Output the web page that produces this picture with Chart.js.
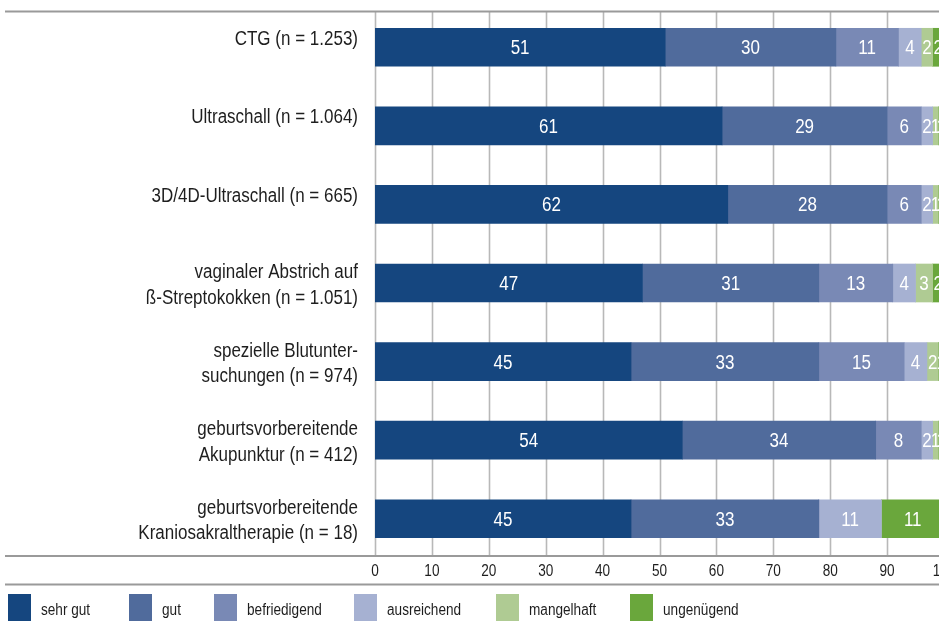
<!DOCTYPE html>
<html>
<head>
<meta charset="utf-8">
<script src="https://cdn.jsdelivr.net/npm/chart.js@4/dist/chart.umd.min.js"></script>
<style>
  html, body { margin: 0; padding: 0; background: #fff; overflow: hidden; width: 939px; height: 621px; }
  #wrap { position: relative; width: 960px; height: 621px; }
</style>
</head>
<body>
<div id="wrap"><canvas id="c" width="960" height="621"></canvas></div>
<script>
// Categories (examinations) with sample sizes
const categories = [
  'CTG (n = 1.253)',
  'Ultraschall (n = 1.064)',
  '3D/4D-Ultraschall (n = 665)',
  ['vaginaler Abstrich auf', 'ß-Streptokokken (n = 1.051)'],
  ['spezielle Blutunter-', 'suchungen (n = 974)'],
  ['geburtsvorbereitende', 'Akupunktur (n = 412)'],
  ['geburtsvorbereitende', 'Kraniosakraltherapie (n = 18)']
];

// Share of ratings per grade, in percent
const sehrGut      = [51, 61, 62, 47, 45, 54, 45];
const gut          = [30, 29, 28, 31, 33, 34, 33];
const befriedigend = [11,  6,  6, 13, 15,  8,  0];
const ausreichend  = [ 4,  2,  2,  4,  4,  2, 11];
const mangelhaft   = [ 2,  1,  1,  3,  2,  1,  0];
const ungenuegend  = [ 2,  1,  1,  2,  1,  1, 11];

const gradeNames = ['sehr gut', 'gut', 'befriedigend', 'ausreichend', 'mangelhaft', 'ungenügend'];
const xTicks = [0, 10, 20, 30, 40, 50, 60, 70, 80, 90, 100];

// Styling
const FONT = '"Liberation Sans", Arial, sans-serif';
const NARROW = 0.85;               // horizontal squeeze for a condensed look
const TEXT_COLOR = '#1e1e1e';
const gradeColors = ['#15467f', '#506b9c', '#7989b5', '#a6b1d2', '#afcb93', '#6aa73c'];
const RULE_COLOR = '#9a9a9a';
const GRID_COLOR = '#b8b8b8';
const LEGEND_X = [8, 129, 214, 354, 496, 630];

const series = [sehrGut, gut, befriedigend, ausreichend, mangelhaft, ungenuegend];

// Draws condensed text anchored at (x, y) on the alphabetic baseline
function narrowText(ctx, text, x, y, align) {
  ctx.save();
  ctx.translate(x, y);
  ctx.scale(NARROW, 1);
  ctx.textAlign = align;
  ctx.textBaseline = 'alphabetic';
  ctx.fillText(text, 0, 0);
  ctx.restore();
}

// Vertical grid lines and horizontal rules behind the bars
const backdrop = {
  id: 'backdrop',
  beforeDatasetsDraw(chart) {
    const ctx = chart.ctx;
    const x = chart.scales.x;
    ctx.save();
    ctx.strokeStyle = GRID_COLOR;
    ctx.lineWidth = 1.6;
    x.ticks.forEach(t => {
      const px = Math.round(x.getPixelForValue(t.value)) + 0.5;
      ctx.beginPath();
      ctx.moveTo(px, 12);
      ctx.lineTo(px, 556);
      ctx.stroke();
    });
    ctx.strokeStyle = RULE_COLOR;
    ctx.lineWidth = 2;
    [11.5, 556].forEach(y => {
      ctx.beginPath();
      ctx.moveTo(5, y);
      ctx.lineTo(chart.width, y);
      ctx.stroke();
    });
    ctx.restore();
  }
};

// Axis labels: categories on the left, percentages below
const axisLabels = {
  id: 'axisLabels',
  afterDraw(chart) {
    const ctx = chart.ctx;
    const x = chart.scales.x;
    const y = chart.scales.y;
    ctx.save();
    ctx.fillStyle = TEXT_COLOR;
    ctx.font = '20px ' + FONT;
    categories.forEach((lab, i) => {
      const cy = y.getPixelForTick(i);
      const right = chart.chartArea.left - 17;
      if (Array.isArray(lab)) {
        narrowText(ctx, lab[0], right, cy - 5, 'right');
        narrowText(ctx, lab[1], right, cy + 20.5, 'right');
      } else {
        narrowText(ctx, lab, right, cy - 2.5, 'right');
      }
    });
    ctx.font = '16px ' + FONT;
    x.ticks.forEach(t => {
      narrowText(ctx, String(t.value), x.getPixelForValue(t.value), 575.5, 'center');
    });
    ctx.restore();
  }
};

// White value labels centred in each segment
const valueLabels = {
  id: 'valueLabels',
  afterDatasetsDraw(chart) {
    const ctx = chart.ctx;
    ctx.save();
    ctx.fillStyle = '#ffffff';
    ctx.font = '20px ' + FONT;
    chart.data.datasets.forEach((ds, di) => {
      const meta = chart.getDatasetMeta(di);
      meta.data.forEach((bar, i) => {
        const v = ds.data[i];
        if (!v) return;
        const cx = (bar.x + bar.base) / 2;
        narrowText(ctx, String(v), cx, bar.y + 7, 'center');
      });
    });
    ctx.restore();
  }
};

// Legend row beneath the axis
const legendRow = {
  id: 'legendRow',
  afterDraw(chart) {
    const ctx = chart.ctx;
    ctx.save();
    ctx.strokeStyle = RULE_COLOR;
    ctx.lineWidth = 2;
    ctx.beginPath();
    ctx.moveTo(5, 584.5);
    ctx.lineTo(chart.width, 584.5);
    ctx.stroke();
    ctx.font = '16px ' + FONT;
    chart.data.datasets.forEach((ds, i) => {
      const x0 = LEGEND_X[i];
      ctx.fillStyle = ds.backgroundColor;
      ctx.fillRect(x0, 594, 23, 30);
      ctx.fillStyle = TEXT_COLOR;
      narrowText(ctx, ds.label, x0 + 33, 614.5, 'left');
    });
    ctx.restore();
  }
};

new Chart(document.getElementById('c'), {
  type: 'bar',
  data: {
    labels: categories,
    datasets: series.map((values, i) => ({
      label: gradeNames[i],
      data: values,
      backgroundColor: gradeColors[i],
      borderWidth: 0,
      barThickness: 38
    }))
  },
  options: {
    indexAxis: 'y',
    responsive: false,
    animation: false,
    devicePixelRatio: 1,
    layout: { padding: { left: 0, right: 16, top: 8, bottom: 0 } },
    plugins: {
      legend: { display: false },
      tooltip: { enabled: false },
      title: { display: false }
    },
    scales: {
      x: {
        stacked: true,
        min: 0,
        max: 100,
        afterBuildTicks(scale) { scale.ticks = xTicks.map(v => ({ value: v })); },
        afterFit(scale) {
          scale.height = 63;
          scale.paddingLeft = 0;
          scale.paddingRight = 0;
        },
        grid: { display: false, drawTicks: false },
        border: { display: false },
        ticks: { display: false }
      },
      y: {
        stacked: true,
        afterFit(scale) {
          scale.width = 375;
          scale.paddingTop = 0;
          scale.paddingBottom = 0;
        },
        grid: { display: false, drawTicks: false },
        border: { display: false },
        ticks: { display: false, autoSkip: false }
      }
    }
  },
  plugins: [backdrop, valueLabels, axisLabels, legendRow]
});
</script>
</body>
</html>
